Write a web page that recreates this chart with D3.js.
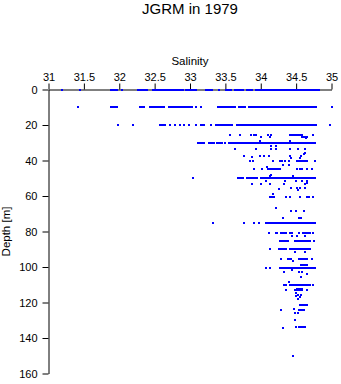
<!DOCTYPE html>
<html>
<head>
<meta charset="utf-8">
<script src="https://cdn.jsdelivr.net/npm/d3@7/dist/d3.min.js"></script>
<style>
  html, body { margin: 0; padding: 0; background: #fff; }
  svg { display: block; font-family: "Liberation Sans", Arial, Helvetica, sans-serif; }
</style>
</head>
<body>
<svg id="chart" width="341" height="384"></svg>
<script>
// ---- data ----
const title = "JGRM in 1979";
const xLabel = "Salinity";
const yLabel = "Depth [m]";
const salinityTicks = [31, 31.5, 32, 32.5, 33, 33.5, 34, 34.5, 35];
const depthTicks = [0, 20, 40, 60, 80, 100, 120, 140, 160];

// dense runs of samples: [depth, salinity from, salinity to]
const runDepths = [0,0,0,0,0,0,0,0,0,
  10,10,10,10,10,10,10,10,10,
  20,20,20,20,20,
  25.4,27,
  30,30,30,30,
  40.4,45,
  50,50,50,50,
  60.5,60.5,
  75,
  80.8,80.8,80.8,80.8,
  85.4,85.4,
  90.1,90.1,
  95.4,95.4,98.6,
  100.5,
  110.4,110.4,112.3,113.2,
  121.5,124.5,133.9];
const runFrom = [31.88,32.27,32.47,32.94,33.22,33.51,33.64,33.80,33.93,
  31.88,32.29,32.44,32.70,33.39,33.69,33.83,33.91,33.96,
  32.57,33.15,33.37,33.66,33.77,
  34.42,34.59,
  33.12,33.27,33.38,33.55,
  34.51,34.10,
  33.68,33.80,33.87,34.00,
  34.13,34.65,
  34.07,
  34.21,34.28,34.41,34.60,
  34.27,34.48,
  34.26,34.41,
  34.38,34.54,34.57,
  34.27,
  34.33,34.42,34.51,34.49,
  34.56,34.54,34.54];
const runTo = [31.97,32.39,32.87,33.08,33.31,33.58,33.75,33.88,34.82,
  31.97,32.35,32.63,33.03,33.63,33.78,33.88,33.94,34.78,
  32.64,33.20,33.59,33.75,34.78,
  34.58,34.66,
  33.17,33.34,33.45,34.77,
  34.66,34.27,
  33.75,33.85,33.94,34.77,
  34.19,34.68,
  34.77,
  34.23,34.36,34.44,34.70,
  34.38,34.70,
  34.35,34.70,
  34.43,34.66,34.65,
  34.76,
  34.36,34.70,34.59,34.59,
  34.66,34.61,34.62];

// single samples
const pointSalinity = [
  31.19,31.45,32.04,32.90,33.41,
  31.41,33.08,33.16,35.01,
  31.98,32.19,32.72,32.79,32.86,32.92,32.98,33.08,33.29,34.98,
  33.56,33.71,33.86,33.90,33.93,34.00,34.10,34.15,34.13,34.64,34.74,33.99,34.41,
  33.20,33.50,33.64,
  33.64,33.93,34.14,34.14,34.22,34.22,34.42,34.52,34.63,
  34.63,34.61,
  33.76,33.99,34.05,34.12,34.41,34.57,34.43,34.56,33.88,
  33.85,33.89,34.18,34.27,34.30,34.34,34.40,34.77,
  34.32,34.40,34.09,
  33.90,34.02,34.51,34.55,34.59,34.66,34.73,
  34.14,34.13,34.45,
  33.04,
  34.08,34.34,34.50,34.59,34.65,
  33.87,34.00,34.13,34.33,34.63,34.65,
  34.43,34.51,34.56,34.63,34.26,34.53,34.18,
  34.36,34.42,34.55,34.74,
  34.22,34.43,34.50,34.61,34.32,34.54,34.57,
  33.32,33.77,33.91,33.97,
  34.11,34.54,34.74,34.44,34.51,34.63,
  34.75,
  34.13,34.49,34.62,
  34.29,34.73,34.46,
  34.07,34.13,
  34.33,34.54,34.59,34.44,34.65,34.57,34.40,
  34.74,
  34.36,34.65,34.50,34.53,34.50,34.55,34.52,34.57,
  34.47,34.29,34.49,34.52,34.49,
  34.50,34.31,34.45];
const pointDepth = [
  0,0,0,0,0,
  10,10,10,10,
  20,20,20,20,20,20,20,20,20,20,
  25.4,25.4,25.4,25.4,25.4,27,25.4,25.4,26.5,27.5,25.4,29,29,
  30,30,33.4,
  33.4,33.4,33.4,32,33.4,32,33.4,33.4,33.4,
  35.7,36.5,
  37.2,37.2,37.2,37.2,37.2,37.2,38.5,38.5,38.2,
  40.4,40.4,40.4,40.4,40.4,40.4,40.4,40.4,
  42.3,42.3,43.5,
  45,45,45,45,45,45,45,
  47.9,48.5,49,
  50,
  51.6,51.6,51.6,51.6,51.6,
  53.5,53.5,53.5,53.5,53.5,52.5,
  55.4,55.4,55.4,55.4,56.3,56.5,58.6,
  60.5,60.5,60.5,60.5,
  66.7,68.5,68.5,68.5,72.3,72.3,72.3,
  75,75,75,75,
  80.8,80.8,80.8,82.3,82.3,82.3,
  85.4,
  90.1,91.6,91.6,
  95.4,95.4,96.7,
  100.5,100.5,
  102.9,102.9,102.9,101.9,104.2,105.5,108.3,
  110.4,
  113.2,113.2,114.5,115.5,116.5,117,118,116,
  123.4,124.5,125.8,125.8,129.6,
  133.9,134.5,150.2];

// ---- drawing ----
const svg = d3.select("#chart");
const blue = "#0000ff";

const x = d3.scaleLinear().domain([31, 35]).range([48.5, 331.5]);
const y = d3.scaleLinear().domain([0, 160]).range([89.5, 373.5]);

// title
svg.append("text")
  .attr("x", 190).attr("y", 14)
  .attr("text-anchor", "middle")
  .attr("font-size", "15px")
  .text(title);

// x axis on top
const xAxis = svg.append("g")
  .attr("transform", `translate(0,${y(0)})`)
  .call(d3.axisTop(x).tickValues(salinityTicks).tickFormat(d3.format("")).tickSize(6).tickSizeOuter(0).tickPadding(3));
xAxis.selectAll("text").attr("font-size", "11px").attr("font-family", "Liberation Sans, Arial, sans-serif").attr("fill", "#000");
xAxis.selectAll("line,path").attr("stroke", "#000");

svg.append("text")
  .attr("x", (x.range()[0] + x.range()[1]) / 2).attr("y", 65)
  .attr("text-anchor", "middle")
  .attr("font-size", "11.5px")
  .text(xLabel);

// y axis
const yAxis = svg.append("g")
  .attr("transform", `translate(${x(31)},0)`)
  .call(d3.axisLeft(y).tickValues(depthTicks).tickSize(6).tickSizeOuter(0).tickPadding(5));
yAxis.selectAll("text").attr("font-size", "11px").attr("font-family", "Liberation Sans, Arial, sans-serif").attr("fill", "#000");
yAxis.selectAll("line,path").attr("stroke", "#000");

svg.append("text")
  .attr("transform", `translate(10,${(y.range()[0] + y.range()[1]) / 2}) rotate(-90)`)
  .attr("text-anchor", "middle")
  .attr("font-size", "11.5px")
  .text(yLabel);

// runs
const runs = runDepths.map((d, i) => ({ depth: d, from: runFrom[i], to: runTo[i] }));
svg.append("g").selectAll("rect")
  .data(runs)
  .join("rect")
  .attr("x", d => Math.round(x(d.from)) - 1)
  .attr("y", d => Math.round(y(d.depth)) - 1)
  .attr("width", d => Math.round(x(d.to)) - Math.round(x(d.from)) + 2)
  .attr("height", 2)
  .attr("fill", blue);

// points
const pts = pointSalinity.map((s, i) => ({ s, d: pointDepth[i] }));
svg.append("g").selectAll("rect")
  .data(pts)
  .join("rect")
  .attr("x", d => Math.round(x(d.s)) - 1)
  .attr("y", d => Math.round(y(d.d)) - 1)
  .attr("width", 2)
  .attr("height", 2)
  .attr("fill", blue);
</script>
</body>
</html>
